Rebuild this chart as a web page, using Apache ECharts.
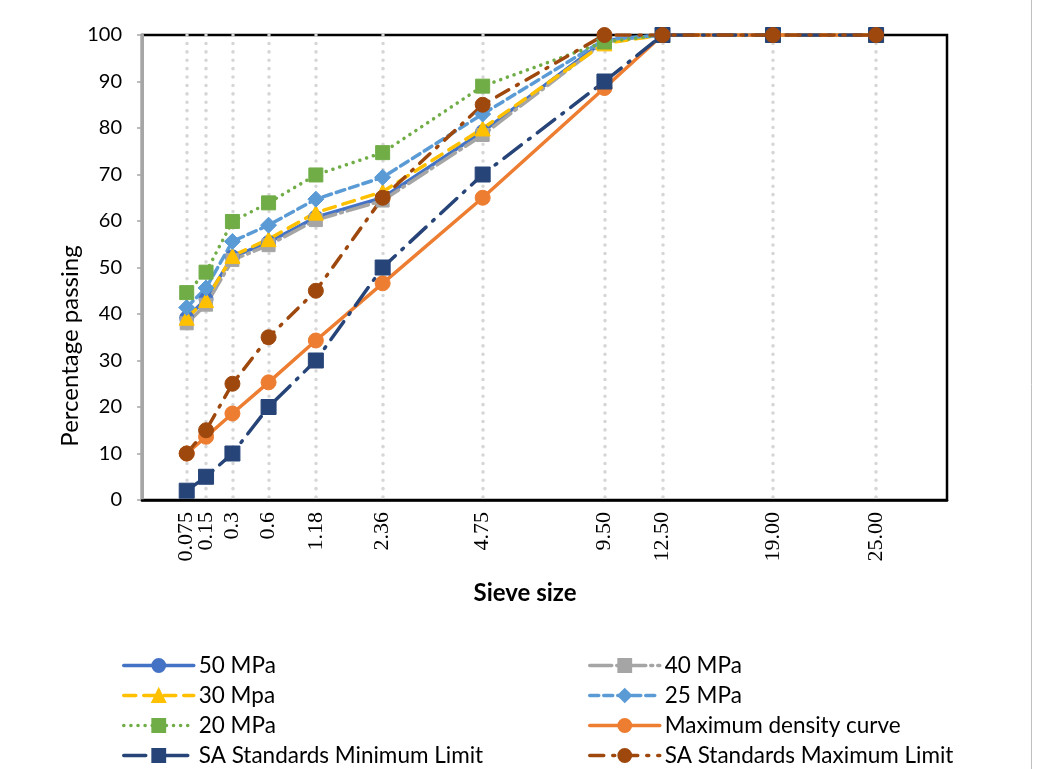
<!DOCTYPE html>
<html>
<head>
<meta charset="utf-8">
<script src="https://cdn.jsdelivr.net/npm/echarts@6/dist/echarts.min.js"></script>
<style>
  html, body { margin: 0; padding: 0; background: #fff; }
  #chart { width: 1040px; height: 769px; }
</style>
</head>
<body>
<div id="chart"></div>
<script>
// Sieve sizes (mm) as printed under the axis
const sieveLabels = ['0.075', '0.15', '0.3', '0.6', '1.18', '2.36', '4.75', '9.50', '12.50', '19.00', '25.00'];
// Abscissa of each sieve on the 0.45-power grading scale
const sievePos = [0.261, 0.374, 0.528, 0.739, 1.015, 1.405, 1.989, 2.700, 3.039, 3.684, 4.286];

// Percentage passing for each mix
const mpa50 = [39.2, 43.2, 52.3, 55.4, 60.8, 65.0, 79.2, 98.8, 100, 100, 100];
const mpa40 = [38.0, 42.0, 51.6, 54.8, 60.2, 64.4, 78.5, 98.5, 100, 100, 100];
const mpa30 = [39.2, 43.0, 52.5, 56.1, 61.8, 66.3, 79.9, 98.2, 100, 100, 100];
const mpa25 = [41.4, 45.6, 55.6, 59.1, 64.7, 69.4, 83.0, 99.0, 100, 100, 100];
const mpa20 = [44.6, 49.0, 59.9, 63.9, 69.9, 74.7, 89.0, 98.5, 100, 100, 100];
const maxDensity = [10.0, 13.6, 18.6, 25.3, 34.3, 46.6, 65.0, 88.6, 100, 100, 100];
const saMin = [2, 5, 10, 20, 30, 50, 70, 90, 100, 100, 100];
const saMax = [10, 15, 25, 35, 45, 65, 85, 100, 100, 100, 100];

const yTicks = { min: 0, max: 100, step: 10 };
const xRange = { min: 0, max: 4.7 };

function pairs(values) {
  return values.map((v, i) => [sievePos[i], v]);
}

function labelFor(v) {
  let best = 0;
  for (let i = 1; i < sievePos.length; i++) {
    if (Math.abs(sievePos[i] - v) < Math.abs(sievePos[best] - v)) best = i;
  }
  return sieveLabels[best];
}

// Neighbouring sieve labels sit very close together, so the labels are
// shared between two overlaid bottom axes (alternate sieves on each).
const evenPos = sievePos.filter((_, i) => i % 2 === 0);
const oddPos = sievePos.filter((_, i) => i % 2 === 1);

const seriesDefs = [
  { name: '50 MPa', data: mpa50, color: '#4472C4', symbol: 'circle', size: 14, dash: 'solid' },
  { name: '40 MPa', data: mpa40, color: '#A5A5A5', symbol: 'rect', size: 13, dash: [22, 5, 2, 5] },
  { name: '30 Mpa', data: mpa30, color: '#FFC000', symbol: 'triangle', size: 15, dash: [12, 8] },
  { name: '25 MPa', data: mpa25, color: '#5B9BD5', symbol: 'diamond', size: 16, dash: [9, 5] },
  { name: '20 MPa', data: mpa20, color: '#70AD47', symbol: 'rect', size: 14, dash: [0.1, 7] },
  { name: 'Maximum density curve', data: maxDensity, color: '#ED7D31', symbol: 'circle', size: 15, dash: 'solid' },
  { name: 'SA Standards Minimum Limit', data: saMin, color: '#264478', symbol: 'rect', size: 15, dash: [22, 9, 2, 9] },
  { name: 'SA Standards Maximum Limit', data: saMax, color: '#9E480E', symbol: 'circle', size: 15, dash: [14, 9, 2, 9] }
];

const series = seriesDefs.map(d => ({
  name: d.name,
  type: 'line',
  xAxisIndex: 0,
  data: pairs(d.data),
  symbol: d.symbol,
  symbolSize: d.size,
  showAllSymbol: true,
  itemStyle: { color: d.color, borderColor: d.color, borderWidth: 1 },
  lineStyle: { color: d.color, width: 3.5, type: d.dash, cap: 'round' },
  emphasis: { disabled: true },
  animation: false
}));

const sieveLabelStyle = {
  rotate: 90,
  margin: 12,
  formatter: v => labelFor(v),
  fontFamily: 'Liberation Serif',
  fontSize: 22,
  color: '#000'
};

const legendText = { fontFamily: 'Lato', fontSize: 22.5, color: '#000' };
const legendCommon = {
  orient: 'vertical', top: 654, padding: 0,
  itemWidth: 70, itemHeight: 16, itemGap: 7,
  textStyle: legendText, selectedMode: false,
  lineStyle: { width: 3.5 }
};

const chart = echarts.init(document.getElementById('chart'), null, { renderer: 'canvas' });
chart.setOption({
  backgroundColor: '#fff',
  animation: false,
  grid: {
    left: 142, right: 93, top: 35, bottom: 269,
    show: true, borderColor: '#000', borderWidth: 2.5, backgroundColor: 'transparent'
  },
  xAxis: [
    {
      type: 'value',
      position: 'bottom',
      min: xRange.min, max: xRange.max,
      z: 3,
      axisLine: { show: true, lineStyle: { color: '#000', width: 2.5 } },
      axisTick: { show: false, customValues: sievePos },
      axisLabel: Object.assign({ customValues: evenPos }, sieveLabelStyle),
      splitLine: {
        show: true,
        lineStyle: { color: '#D6D6D6', width: 3.5, type: [0.1, 8.3], cap: 'round' }
      }
    },
    {
      type: 'value',
      position: 'bottom',
      offset: 0,
      min: xRange.min, max: xRange.max,
      axisLine: { show: false },
      axisTick: { show: false, customValues: oddPos },
      axisLabel: Object.assign({ customValues: oddPos }, sieveLabelStyle),
      splitLine: { show: false }
    }
  ],
  yAxis: {
    type: 'value',
    min: yTicks.min, max: yTicks.max, interval: yTicks.step,
    axisLine: { show: true, lineStyle: { color: '#A6A6A6', width: 3 } },
    axisTick: { show: true, length: 5, lineStyle: { color: '#A6A6A6', width: 1.5 } },
    axisLabel: { margin: 20, fontFamily: 'Lato', fontSize: 20, color: '#000' },
    splitLine: { show: false }
  },
  legend: [
    Object.assign({ data: ['50 MPa', '30 Mpa', '20 MPa', 'SA Standards Minimum Limit'], left: 122 }, legendCommon),
    Object.assign({ data: ['40 MPa', '25 MPa', 'Maximum density curve', 'SA Standards Maximum Limit'], left: 588 }, legendCommon)
  ],
  graphic: [
    {
      type: 'text', x: 70, y: 346, rotation: Math.PI / 2,
      style: { text: 'Percentage passing', fontFamily: 'Lato', fontSize: 24, fill: '#000', align: 'center', verticalAlign: 'middle' }
    },
    {
      type: 'text', x: 525, y: 593,
      style: { text: 'Sieve size', fontFamily: 'Lato', fontWeight: 'bold', fontSize: 24, fill: '#000', align: 'center', verticalAlign: 'middle' }
    },
    {
      type: 'line', silent: true,
      shape: { x1: 1031.5, y1: 0, x2: 1031.5, y2: 769 },
      style: { stroke: '#BFBFBF', lineWidth: 1 }
    }
  ],
  series: series
});
</script>
</body>
</html>
